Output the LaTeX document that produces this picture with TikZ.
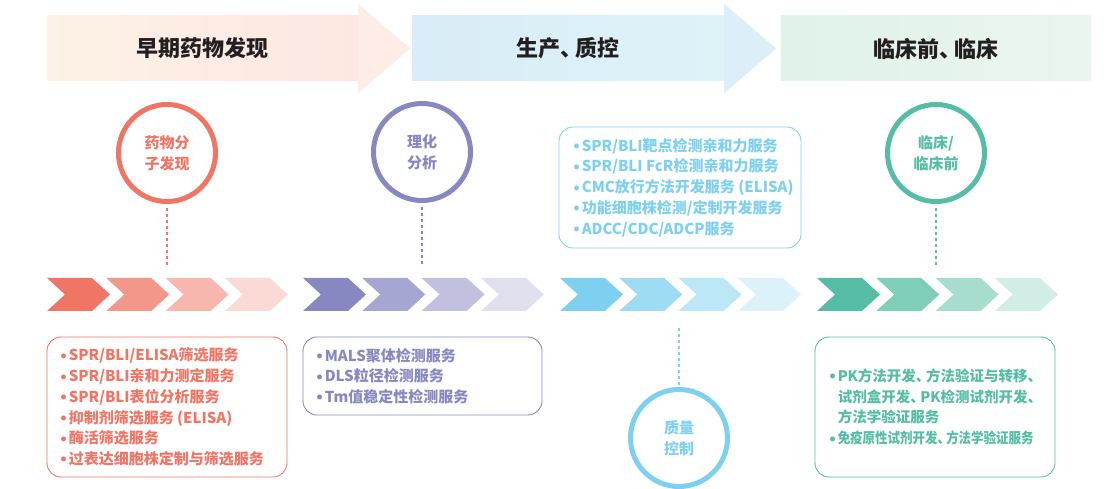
\documentclass[tikz,border=0pt]{standalone}
\usepackage{fontspec}
\usepackage{graphicx}
\setmainfont{Noto Sans CJK SC}
\usetikzlibrary{positioning}

\definecolor{drugred}{HTML}{F07565}
\definecolor{physviolet}{HTML}{8788C2}
\definecolor{qcblue}{HTML}{7DD0EF}
\definecolor{clingreen}{HTML}{54BDA3}
\definecolor{titleink}{HTML}{231F20}
\definecolor{earlyleft}{HTML}{FDF2E6}
\definecolor{earlyright}{HTML}{FDE7E2}
\definecolor{earlytip}{HTML}{FEEDE6}
\definecolor{cmcleft}{HTML}{D9ECF7}
\definecolor{cmcright}{HTML}{DDF3F8}
\definecolor{cmctip}{HTML}{DCEEF8}
\definecolor{clinleft}{HTML}{E0F2E9}
\definecolor{clinright}{HTML}{EAF6ED}

\newcommand{\itemdot}{\makebox[8pt][l]{\raisebox{2.6pt}{\fontsize{5.5}{6}\selectfont ●}}}
\newcommand{\dun}{、\kern-.3em}

\begin{document}
\begin{tikzpicture}[x=1pt, y=-1pt,
  banner/.style={minimum width=311pt, minimum height=65pt, inner sep=0pt, text=titleink, font=\fontsize{22}{26}\selectfont\bfseries},
  ring/.style={circle, draw=#1, line width=5pt, minimum size=97pt, inner sep=0pt, align=center, text=#1, font=\fontsize{15}{21}\selectfont\bfseries},
  link/.style={draw=#1, line width=1.2pt, dash pattern=on 3pt off 3pt},
  frame/.style={draw=#1, fill=white, rounded corners=14pt, line width=0.9pt, minimum width=240pt},
  list/.style={anchor=west, inner sep=0pt, align=left, text=#1, font=\fontsize{15}{20.7}\selectfont\bfseries}
]
\useasboundingbox (0,0) rectangle (1120,489);

\node[banner, left color=earlyleft, right color=earlyright] (early) at (202.5,48.5) {早期药物发现};
\fill[earlytip] ([yshift=12pt]early.north east) -- ([xshift=52pt]early.east) -- ([yshift=-12pt]early.south east) -- cycle;
\node[banner, minimum width=312pt, left color=cmcleft, right color=cmcright] (cmc) at (568,48.5) {生产\dun 质控};
\fill[cmctip] ([yshift=12pt]cmc.north east) -- ([xshift=52pt]cmc.east) -- ([yshift=-12pt]cmc.south east) -- cycle;
\node[banner, minimum width=310pt, left color=clinleft, right color=clinright] (clinic) at (936,48.5) {临床前\dun 临床};

\node[ring=drugred] (mol) at (167,153) {药物分\\子发现};
\node[ring=physviolet] (phys) at (422,152) {理化\\分析};
\node[ring=clingreen] (clin) at (936,153) {临床/\\临床前};
\node[ring=qcblue] (qc) at (679,438) {质量\\控制};

\coordinate (mol-end) at (167,265);
\coordinate (phys-end) at (422,265);
\coordinate (clin-end) at (936,265);
\coordinate (qc-top) at (679,328);

\draw[link=drugred, shorten <=4pt] (mol) -- (mol-end);
\draw[link=physviolet, shorten <=4pt] (phys) -- (phys-end);
\draw[link=clingreen, shorten <=4pt] (clin) -- (clin-end);
\draw[link=qcblue, shorten >=2pt] (qc-top) -- (qc);

\foreach \gx/\gc in {47/drugred, 303/physviolet, 560/qcblue, 817/clingreen}
  \foreach \i/\tint in {0/100, 1/75, 2/52, 3/27}
    \fill[\gc!\tint!white] ({\gx+59.3*\i},278) -- ++(45,0) -- ++(18,16.5) -- ++(-18,16.5) -- ++(-45,0) -- ++(18,-16.5) -- cycle;

\node[frame=drugred, minimum height=140pt] (svc-mol) at (167,407) {};
\node[list=drugred] at ([xshift=14pt]svc-mol.west) {\itemdot SPR/BLI/ELISA筛选服务\\\itemdot SPR/BLI亲和力测定服务\\\itemdot SPR/BLI表位分析服务\\\itemdot 抑制剂筛选服务 (ELISA)\\\itemdot 酶活筛选服务\\\itemdot 过表达细胞株定制与筛选服务};

\node[frame=physviolet, minimum width=239pt, minimum height=78pt] (svc-phys) at (422.5,376) {};
\node[list=physviolet] at ([xshift=14pt]svc-phys.west) {\itemdot MALS聚体检测服务\\\itemdot DLS粒径检测服务\\\itemdot Tm值稳定性检测服务};

\node[frame=qcblue, minimum width=242pt, minimum height=121pt] (svc-qc) at (680,187.5) {};
\node[list=qcblue] at ([xshift=15pt]svc-qc.west) {\itemdot SPR/BLI靶点检测亲和力服务\\\itemdot SPR/BLI FcR检测亲和力服务\\\itemdot CMC放行方法开发服务 (ELISA)\\\itemdot 功能细胞株检测/定制开发服务\\\itemdot ADCC/CDC/ADCP服务};

\node[frame=clingreen, minimum height=140pt] (svc-clin) at (935,407) {};
\node[list=clingreen, font=\fontsize{14.5}{20.7}\selectfont\bfseries] at ([xshift=15pt]svc-clin.west) {\itemdot PK方法开发\dun 方法验证与转移\dun\\\hspace*{8pt}试剂盒开发\dun PK检测试剂开发\dun\\\hspace*{8pt}方法学验证服务\\\itemdot \scalebox{0.86}[1]{免疫原性试剂开发\dun 方法学验证服务}};

\end{tikzpicture}
\end{document}
